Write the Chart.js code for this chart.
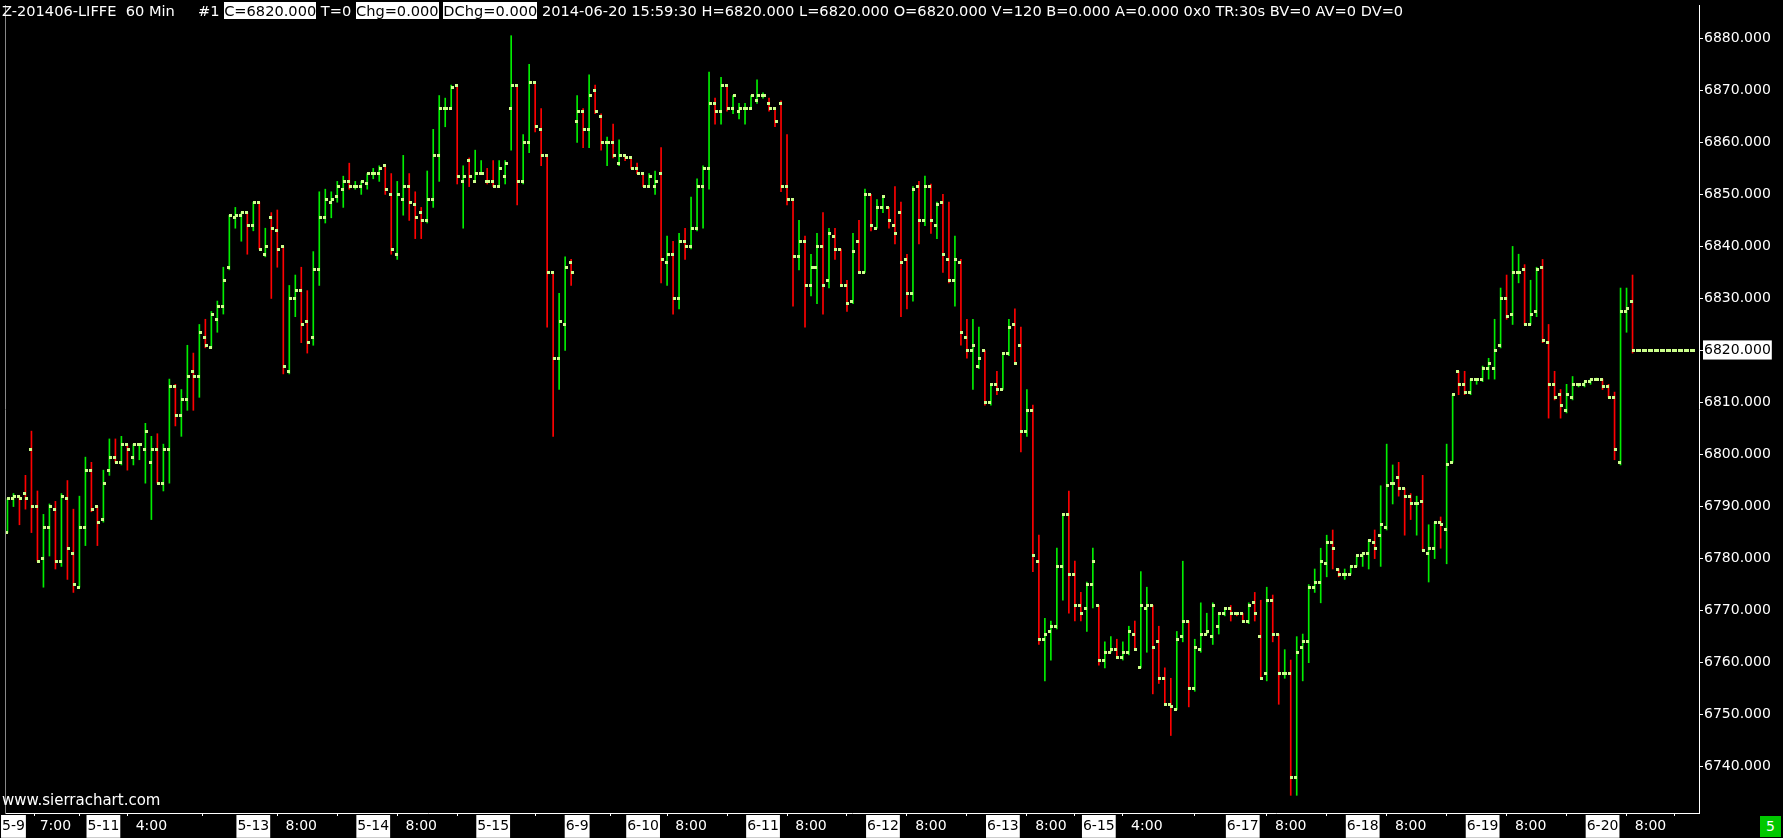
<!DOCTYPE html>
<html>
<head>
<meta charset="utf-8">
<script src="https://cdn.jsdelivr.net/npm/chart.js@4.4.1/dist/chart.umd.min.js"></script>
<style>
html, body { margin: 0; padding: 0; background: #000; overflow: hidden; }
#wrap { position: relative; width: 1783px; height: 838px; }
#chart { display: block; position: absolute; left: 0; top: 0; }
#hdr { position: absolute; left: 2px; top: 1px; font: 14.6px "DejaVu Sans"; color: #fff; white-space: pre; line-height: 19px; }
#hdr span { background: #fff; color: #000; }
#site { position: absolute; left: 2px; top: 791px; font: 15px "DejaVu Sans"; color: #fff; }
#badge { position: absolute; left: 1760px; top: 816px; width: 21px; height: 21px; background: #00c800; color: #fff; font: 14px "DejaVu Sans"; text-align: center; line-height: 21px; }
</style>
</head>
<body>
<div id="wrap">
<canvas id="chart" width="1783" height="838"></canvas>
<div id="hdr">Z-201406-LIFFE  60 Min     #1 <span>C=6820.000</span> T=0 <span>Chg=0.000</span> <span>DChg=0.000</span> 2014-06-20 15:59:30 H=6820.000 L=6820.000 O=6820.000 V=120 B=0.000 A=0.000 0x0 TR:30s BV=0 AV=0 DV=0</div>
<div id="site">www.sierrachart.com</div>
<div id="badge">5</div>
</div>
<script>
// 60 min bars
const opens = [6785,6791.5,6792,6792.5,6801,6790,6780,6786,6789.5,6779.5,
6791.5,6781,6774.5,6786,6797,6790,6787.5,6797,6799.5,6798.5,
6802,6799.5,6802,6801,6798.5,6801,6794.5,6801,6813,6807.5,
6810.5,6816,6815,6822.5,6820.5,6826,6828.5,6836,6845.5,6846,
6846.5,6844,6848.5,6838.5,6845.5,6843,6840,6816,6830,6831.5,
6825.5,6822.5,6835.5,6845.5,6848.5,6849.5,6851,6852.5,6851.5,6851.5,
6852,6854,6854,6855.5,6850,6838.5,6849,6851.5,6848,6846.5,
6845,6849,6857.5,6866.5,6866.5,6871,6852.5,6856.5,6852.5,6854,
6852.5,6852.5,6851.5,6853.5,6866.5,6871,6852.5,6860,6871.5,6862.5,
6857.5,6835,6818.5,6825,6837,6864,6866,6862.5,6870,6865,
6860,6860,6856,6857.5,6857,6855,6854,6851.5,6851.5,6854,
6837,6838.5,6830,6841,6840,6843.5,6851.5,6855,6867.5,6866,
6871,6866.5,6866,6866.5,6866.5,6868,6869,6867.5,6866.5,6867.5,
6851.5,6849,6838,6841,6832.5,6836,6840,6833.5,6842,6839.5,
6832.5,6829.5,6841,6835,6850,6843.5,6847.5,6847.5,6844,6846.5,
6837.5,6831,6851.5,6845,6851.5,6844,6848.5,6837.5,6833.5,6837,
6822.5,6820,6817,6820,6810,6813.5,6812.5,6819.5,6825,6821,
6804.5,6808.5,6779.5,6764.5,6766,6767,6778.5,6788.5,6777,6771,
6770.5,6775,6771,6760.5,6762,6762.5,6761,6762,6765.5,6759,
6770.5,6771,6764,6757,6752,6751,6765,6768,6755,6762.5,
6765.5,6765,6767,6769.5,6770.5,6769.5,6769.5,6768,6771.5,6765,
6758,6772,6765.5,6758,6758,6738,6763,6764,6774.5,6775.5,
6779,6783,6778,6777,6777,6778.5,6780.5,6781,6783,6784.5,
6786,6794.5,6795.5,6793.5,6792,6790.5,6791,6781,6782,6787,
6785.5,6798.5,6816,6813.5,6812,6814.5,6814.5,6816.5,6816.5,6821,
6830,6827,6835,6835.5,6825,6827.5,6836,6821.5,6813.5,6811.5,
6808.5,6811,6813.5,6813.5,6814,6814.5,6814.5,6813,6811,6798.5,
6827.5,6829.5,6820,6820,6820,6820,6820,6820,6820,6820,
6820,6820];

const highs = [6791.5,6792.5,6792,6796,6804.5,6793,6788.5,6790.5,6791,6792.5,
6795,6789.5,6792,6799.5,6798.5,6790,6797,6803,6803,6803.5,
6802,6802,6802,6806,6803.5,6804,6802,6814.5,6813.5,6812.5,
6821,6819.5,6825,6826,6827.5,6829.5,6836,6846,6847.5,6846.5,
6846.5,6848.5,6848.5,6843.5,6846.5,6847,6840,6832.5,6834.5,6836,
6831.5,6839,6850.5,6851,6850.5,6852.5,6853.5,6856,6852.5,6852.5,
6854,6855,6855.5,6855.5,6854,6852.5,6857.5,6854,6850.5,6847.5,
6854.5,6862.5,6869,6868.5,6871,6871,6855.5,6857,6858.5,6856.5,
6855,6856.5,6856.5,6856.5,6880.5,6871,6861.5,6875,6871.5,6866.5,
6857.5,6835,6831,6838,6837.5,6869,6866.5,6873,6871,6865.5,
6861,6863.5,6860.5,6857.5,6857,6856,6854,6854,6854.5,6859,
6842,6841,6842.5,6843.5,6849.5,6853,6855.5,6873.5,6868.5,6872.5,
6871,6869,6867.5,6867.5,6869,6872,6869.5,6868.5,6866.5,6868,
6861.5,6849,6845,6842,6838.5,6842.5,6846.5,6843.5,6843.5,6839.5,
6833.5,6842.5,6845,6851,6850,6849,6849.5,6847.5,6851.5,6848.5,
6838.5,6851.5,6852.5,6853.5,6852,6848.5,6850,6848.5,6842,6837.5,
6826,6826,6824.5,6820,6813.5,6816,6819.5,6826,6828,6824.5,
6812.5,6809.5,6784.5,6768.5,6768,6782,6788.5,6793,6779.5,6773.5,
6775.5,6782,6771,6764,6765,6764.5,6764,6767,6768,6777.5,
6774.5,6771,6767,6759,6757,6766,6779.5,6768,6764.5,6771.5,
6769.5,6771.5,6769.5,6770.5,6771,6769.5,6769.5,6771.5,6773.5,6772,
6774.5,6773,6765.5,6762.5,6760.5,6765,6765.5,6775,6778,6782,
6784.5,6785.5,6778,6778,6778.5,6780.5,6781,6783.5,6785.5,6794,
6802,6798,6798.5,6793.5,6792.5,6792,6796,6786.5,6787,6788,
6802,6811.5,6816,6816,6814.5,6814.5,6817,6818.5,6826,6832,
6834.5,6840,6838.5,6836.5,6833.5,6836,6837.5,6825,6816,6812.5,
6813.5,6815,6813.5,6814,6814.5,6814.5,6814.5,6813.5,6812,6832,
6832,6834.5,6820,6820,6820,6820,6820,6820,6820,6820,
6820,6820];

const lows = [6785,6790,6786.5,6789.5,6785,6779.5,6774.5,6780.5,6778,6778.5,
6776,6773.5,6774.5,6782.5,6789,6782.5,6787,6796,6798.5,6798,
6797,6798,6799,6794.5,6787.5,6794.5,6793,6794.5,6805.5,6803.5,
6808.5,6808.5,6811,6820.5,6820.5,6823.5,6827,6835.5,6843.5,6841,
6838.5,6843,6839.5,6838,6830,6836,6815.5,6815.5,6826.5,6821.5,
6819.5,6821,6832.5,6844.5,6845.5,6848.5,6847.5,6851,6851,6850,
6851,6853,6852.5,6850,6838.5,6837.5,6846,6845,6841.5,6841.5,
6844.5,6847.5,6852.5,6863,6866.5,6852,6843.5,6851.5,6852.5,6854,
6852,6851.5,6851.5,6852,6858.5,6848,6852,6858,6862,6855.5,
6824.5,6803.5,6812.5,6820,6832.5,6860,6859,6859,6865.5,6858.5,
6855.5,6857,6855.5,6856.5,6855,6854,6851.5,6851.5,6850,6833,
6832.5,6827,6828,6837.5,6839.5,6843,6843.5,6851,6863.5,6863.5,
6866,6865.5,6864.5,6863.5,6866.5,6867.5,6868.5,6866,6863,6850.5,
6848,6828.5,6835.5,6824.5,6830.5,6829,6827,6832,6837.5,6832.5,
6827.5,6829,6835,6835,6843,6843.5,6846.5,6843.5,6840.5,6826.5,
6828,6829.5,6840.5,6844,6842.5,6841.5,6835,6833,6828.5,6821,
6818.5,6812.5,6816.5,6809.5,6809.5,6811.5,6812.5,6819,6817.5,6800.5,
6803.5,6777.5,6763.5,6756.5,6760.5,6766.5,6772,6769.5,6768,6768,
6766,6770.5,6759.5,6759,6762,6761,6760.5,6761.5,6762.5,6759,
6762,6754,6756,6752,6746,6751,6764,6751.5,6754.5,6762,
6765.5,6763.5,6765.5,6769,6768,6769,6768,6767.5,6768,6757,
6756.5,6764,6752,6757,6734.5,6734.5,6756.5,6760,6773.5,6771.5,
6776.5,6778,6776.5,6776,6777,6778.5,6778.5,6778,6780,6778.5,
6785.5,6790.5,6792,6784.5,6787.5,6784.5,6781.5,6775.5,6780,6782,
6779,6798.5,6811.5,6811.5,6811.5,6813.5,6814,6814.5,6814.5,6820.5,
6826,6825,6833,6825,6825,6826.5,6821.5,6807,6810.5,6807,
6808,6810.5,6813,6813,6813.5,6814.5,6812.5,6811,6799,6798,
6823.5,6819.5,6820,6820,6820,6820,6820,6820,6820,6820,
6820,6820];

const closes = [6791.5,6792,6791.5,6791.5,6790,6779.5,6786,6790,6779.5,6792,
6782,6775,6786,6797,6789.5,6787,6794.5,6799.5,6798.5,6802,
6801,6802,6802,6804.5,6801,6794.5,6801,6813,6807.5,6810.5,
6815,6815,6823.5,6821,6827,6828.5,6833.5,6846,6846,6846.5,
6844,6848.5,6839.5,6840,6843.5,6839.5,6817,6830,6831.5,6825,
6821.5,6835.5,6845.5,6849,6849,6851.5,6852.5,6851.5,6851.5,6852.5,
6854,6854,6855,6851,6839.5,6850,6851.5,6848.5,6845.5,6845,
6849,6857.5,6866.5,6866.5,6870.5,6853.5,6853.5,6853.5,6854,6854,
6852.5,6851.5,6855,6856,6871,6852.5,6860,6871.5,6863,6857.5,
6835,6818.5,6825.5,6836,6835,6866,6862.5,6869,6866,6860,
6860,6857.5,6857.5,6857,6855,6854,6851.5,6853.5,6852.5,6837.5,
6838.5,6830,6841,6840,6843.5,6851.5,6855,6867.5,6866,6871,
6866.5,6869,6866.5,6866.5,6869,6869,6869,6866.5,6864,6851.5,
6849,6838,6841,6832.5,6836,6840,6832.5,6842.5,6839.5,6832.5,
6829,6839,6835,6850,6844,6847.5,6849.5,6845,6842.5,6837,
6831,6851,6845,6851.5,6845,6848,6838.5,6833.5,6837.5,6823.5,
6820,6821,6818.5,6810,6813.5,6812.5,6819.5,6824.5,6817.5,6804.5,
6808.5,6780.5,6764.5,6765.5,6767,6778.5,6788.5,6777,6771,6769.5,
6775,6779.5,6760.5,6762,6762.5,6761,6762,6766,6762.5,6771,
6771,6763,6757,6752,6751.5,6764.5,6768,6755,6763,6765.5,
6766,6771,6769.5,6770.5,6769.5,6769.5,6768,6771,6769.5,6757,
6772,6765.5,6758,6758,6738,6762,6764,6774.5,6775.5,6779.5,
6783,6782,6777,6777,6778.5,6780.5,6781,6783.5,6782,6786.5,
6794,6794.5,6793.5,6792,6790.5,6790.5,6781.5,6782,6787,6786.5,
6798,6811.5,6813.5,6812,6814.5,6814.5,6816.5,6817.5,6820,6830,
6826.5,6835,6835,6825,6827,6835.5,6822,6813.5,6811,6809.5,
6811.5,6813.5,6813.5,6814,6814.5,6814.5,6813,6811,6801,6827.5,
6828,6820,6820,6820,6820,6820,6820,6820,6820,6820,
6820,6820];

// g = up bar, r = down bar
const barDirs = "ggrrrrggrg" + "rrggrrggrg" + "rggggrggrg" + "grgrgggggg" + "rgrgrrrggr" +
  "rggggggrgg" + "gggrrggrrr" + "gggggrgrgg" + "rrgggrggrr" + "rrggrgrgrr" +
  "grgrrrrggr" + "grgrggggrg" + "rggggggrrr" + "rrgrggrgrr" + "rgrgrggrrr" +
  "rgrgrgrrgr" + "rggrgrggrr" + "grrggggrrr" + "ggrggrggrg" + "grrrrggrgg" +
  "ggggrrrgrr" + "grrgrggggg" + "grrgggggrg" + "ggrrrgrggr" + "ggrrgggggg" +
  "rggrggrrrr" + "ggggggrrrg" + "grgggggggg" + "gg";

// bar positions of the time-axis labels
const tickIdx = [1, 8, 16, 24, 41, 49, 61, 69, 81, 95, 106, 114, 126, 134, 146, 154, 166, 174, 182, 190, 206, 214, 226, 234, 246, 254, 266, 274];
const tickText = ["5-9", "7:00", "5-11", "4:00", "5-13", "8:00", "5-14", "8:00", "5-15", "6-9", "6-10", "8:00", "6-11", "8:00", "6-12", "8:00", "6-13", "8:00", "6-15", "4:00", "6-17", "8:00", "6-18", "8:00", "6-19", "8:00", "6-20", "8:00"];
const priceTicks = [6740, 6750, 6760, 6770, 6780, 6790, 6800, 6810, 6820, 6830, 6840, 6850, 6860, 6870, 6880];
const lastPrice = 6820;

const UP = "#00ee00", DOWN = "#ff0000", DOT = "#ccff8c";

// screen spacing of the original: 6 px per bar, 5.203 px per point, 6880 at y=38.3
const BAR_PX = 6, FIRST_BAR_X = 6.5, PT_PX = 5.203, REF_PRICE = 6880, REF_Y = 38.3;

// open tick sits left of the bar, close tick right of it
function tickMark(side) {
	const c = document.createElement("canvas");
	c.width = 5;
	c.height = 3;
	const g = c.getContext("2d");
	g.fillStyle = DOT;
	g.fillRect(side === "open" ? 0 : 2, 0, 3, 3);
	return c;
}

const isDate = v => (tickText[tickIdx.indexOf(v)] || "").includes("-");

const ctx = document.getElementById("chart").getContext("2d");
const chart = new Chart(ctx, {
	type: "bar",
	data: {
		datasets: [
			{
				data: highs.map((h, i) => ({ x: i, y: [lows[i], h] })),
				backgroundColor: highs.map((h, i) => barDirs[i] === "g" ? UP : DOWN),
				barThickness: 1,
				minBarLength: 1,
				borderWidth: 0,
				order: 3
			},
			{
				type: "line",
				data: opens.map((o, i) => ({ x: i, y: o })),
				showLine: false,
				pointStyle: tickMark("open"),
				pointRadius: 2,
				order: 2
			},
			{
				type: "line",
				data: closes.map((c, i) => ({ x: i, y: c })),
				showLine: false,
				pointStyle: tickMark("close"),
				pointRadius: 2,
				order: 1
			}
		]
	},
	options: {
		responsive: false,
		animation: false,
		devicePixelRatio: 1,
		layout: { padding: 0 },
		plugins: { legend: { display: false }, tooltip: { enabled: false } },
		scales: {
			x: {
				type: "linear",
				min: -0.75,
				max: 282,
				offset: false,
				afterBuildTicks: s => { s.ticks = tickIdx.map(v => ({ value: v })); },
				afterFit: s => { s.height = 25; },
				grid: { drawOnChartArea: false, drawTicks: true, tickLength: 3, color: "#fff" },
				border: { color: "#fff" },
				ticks: {
					autoSkip: false,
					maxRotation: 0,
					padding: 2,
					font: { family: "DejaVu Sans", size: 14 },
					color: c => isDate(c.tick.value) ? "#000" : "#fff",
					showLabelBackdrop: c => isDate(c.tick.value),
					backdropColor: "#fff",
					backdropPadding: { x: 1, y: 3 },
					callback: v => tickText[tickIdx.indexOf(v)] ?? ""
				}
			},
			y: {
				position: "right",
				min: 6731,
				max: 6887,
				afterBuildTicks: s => { s.ticks = priceTicks.map(v => ({ value: v })); },
				afterFit: s => { s.width = 84; },
				grid: { drawOnChartArea: false, drawTicks: true, tickLength: 4, color: "#fff" },
				border: { color: "#fff" },
				ticks: {
					padding: 1,
					// tiny line height keeps the axis from padding the top of the plot
					font: { family: "DejaVu Sans", size: 14, lineHeight: 0.01 },
					color: c => c.tick.value === lastPrice ? "#000" : "#fff",
					showLabelBackdrop: c => c.tick.value === lastPrice,
					backdropColor: "#fff",
					backdropPadding: { left: 1, right: 1, top: 10, bottom: 9 },
					callback: v => v.toFixed(3)
				}
			},
			edge: {
				position: "left",
				ticks: { display: false },
				grid: { display: false, drawTicks: false },
				border: { display: true, color: "#888" },
				afterFit: s => { s.width = 2; }
			}
		}
	},
	plugins: [{
		id: "crisp",
		beforeDatasetsDraw: c => { c.ctx.imageSmoothingEnabled = false; }
	}]
});

// fit the axis ranges to the plot box so bar spacing and price scale match the original
const area = chart.chartArea;
const sx = chart.options.scales.x, sy = chart.options.scales.y;
sx.min = -(FIRST_BAR_X - area.left) / BAR_PX;
sx.max = sx.min + (area.right - area.left) / BAR_PX;
sy.max = REF_PRICE + (REF_Y - area.top) / PT_PX;
sy.min = REF_PRICE - (area.bottom - REF_Y) / PT_PX;
chart.update();
</script>
</body>
</html>
